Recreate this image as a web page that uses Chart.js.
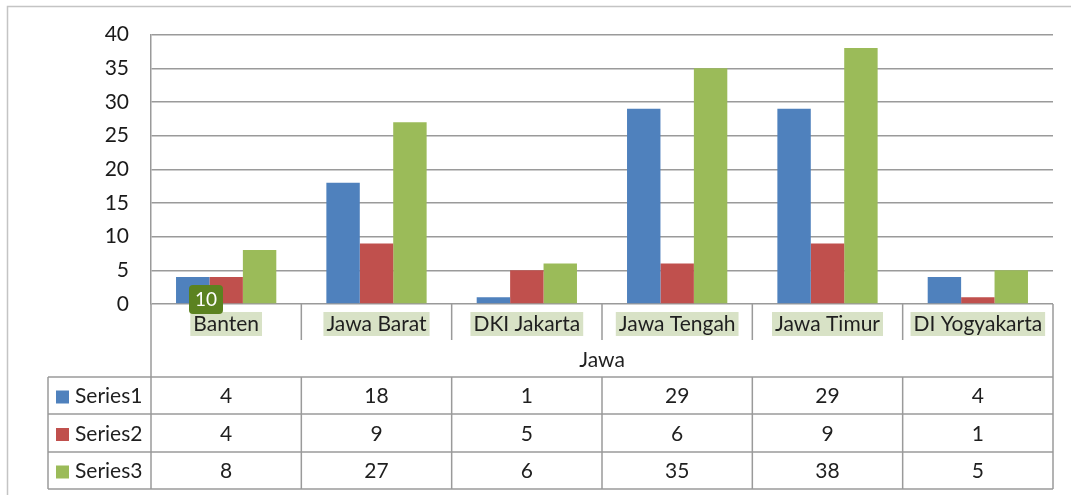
<!DOCTYPE html>
<html>
<head>
<meta charset="utf-8">
<script src="https://cdn.jsdelivr.net/npm/chart.js@4"></script>
<style>
  html, body { margin: 0; padding: 0; background: #fff; }
  #wrap { width: 1071px; height: 495px; }
</style>
</head>
<body>
<div id="wrap"><canvas id="chart" width="1071" height="495"></canvas></div>
<script>
// ===== DATA =====
const categories = ["Banten", "Jawa Barat", "DKI Jakarta", "Jawa Tengah", "Jawa Timur", "DI Yogyakarta"];
const groupLabel = "Jawa";
const seriesNames = ["Series1", "Series2", "Series3"];
const series1 = [4, 18, 1, 29, 29, 4];
const series2 = [4, 9, 5, 6, 9, 1];
const series3 = [8, 27, 6, 35, 38, 5];
const seriesColors = ["#4f81bd", "#c0504d", "#9bbb59"];
const badgeText = "10";

const FONT = "Lato, 'Open Sans', sans-serif";
const lineColor = "#9a9a9a";

// ===== TABLE + EXTRAS =====
const tablePlugin = {
    id: "dataTable",
    afterDraw(chart) {
        const ctx = chart.ctx;
        const area = chart.chartArea;
        const x = chart.scales.x;
        const n = categories.length;
        const left = area.left, right = area.right, base = area.bottom;
        const rowTops = [377, 414, 452, 489];
        const legendLeft = 48;
        const all = [series1, series2, series3];

        // column edges from the x scale
        const edges = [left];
        for (let i = 0; i < n - 1; i++) {
            edges.push((x.getPixelForValue(i) + x.getPixelForValue(i + 1)) / 2);
        }
        edges.push(right);

        ctx.save();

        // outer frame
        ctx.strokeStyle = "#c4c4c4";
        ctx.lineWidth = 1.5;
        ctx.beginPath();
        ctx.moveTo(7.5, 495); ctx.lineTo(7.5, 6.5); ctx.lineTo(1071, 6.5);
        ctx.stroke();

        // category label highlights + text
        ctx.font = "21px " + FONT;
        ctx.textAlign = "center";
        ctx.textBaseline = "middle";
        categories.forEach((c, i) => {
            const cx = x.getPixelForValue(i);
            const w = Math.min(ctx.measureText(c).width + 6, edges[i + 1] - edges[i] - 2);
            ctx.fillStyle = "#d8e2c6";
            ctx.fillRect(cx - w / 2, 312, w, 24);
        });
        categories.forEach((c, i) => {
            ctx.fillStyle = "#1f1f1f";
            ctx.fillText(c, x.getPixelForValue(i), 324);
        });
        ctx.fillText(groupLabel, (left + right) / 2, 360);

        // lines
        ctx.strokeStyle = lineColor;
        ctx.lineWidth = 1.5;
        ctx.beginPath();
        ctx.moveTo(left, base); ctx.lineTo(left, rowTops[3]);
        ctx.moveTo(right, base); ctx.lineTo(right, rowTops[3]);
        for (let i = 1; i < n; i++) {
            ctx.moveTo(edges[i], base); ctx.lineTo(edges[i], 340);
            ctx.moveTo(edges[i], rowTops[0]); ctx.lineTo(edges[i], rowTops[3]);
        }
        ctx.moveTo(legendLeft, rowTops[0]); ctx.lineTo(legendLeft, rowTops[3]);
        rowTops.forEach(y => { ctx.moveTo(legendLeft, y); ctx.lineTo(right, y); });
        ctx.stroke();

        // table rows
        for (let r = 0; r < 3; r++) {
            const cy = (rowTops[r] + rowTops[r + 1]) / 2 + 1;
            ctx.fillStyle = seriesColors[r];
            ctx.fillRect(56, cy - 6, 13, 13);
            ctx.fillStyle = "#1f1f1f";
            ctx.textAlign = "left";
            ctx.fillText(seriesNames[r], 75, cy);
            ctx.textAlign = "center";
            all[r].forEach((v, i) => ctx.fillText(String(v), x.getPixelForValue(i), cy));
        }

        // green badge over Banten
        ctx.fillStyle = "#5b8220";
        ctx.beginPath();
        ctx.roundRect(189, 285, 34, 29, 4);
        ctx.fill();
        ctx.fillStyle = "#ffffff";
        ctx.font = "19px " + FONT;
        ctx.fillText(badgeText, 206, 300);

        ctx.restore();
    }
};

new Chart(document.getElementById("chart").getContext("2d"), {
    type: "bar",
    data: {
        labels: categories,
        datasets: [
            { label: seriesNames[0], data: series1, backgroundColor: seriesColors[0] },
            { label: seriesNames[1], data: series2, backgroundColor: seriesColors[1] },
            { label: seriesNames[2], data: series3, backgroundColor: seriesColors[2] }
        ]
    },
    options: {
        responsive: false,
        animation: false,
        events: [],
        layout: { padding: { left: 0, top: 33, right: 18, bottom: 191 } },
        datasets: { bar: { categoryPercentage: 0.667, barPercentage: 1 } },
        plugins: { legend: { display: false }, tooltip: { enabled: false } },
        scales: {
            x: {
                display: false,
                offset: true
            },
            y: {
                min: 0,
                max: 40,
                afterFit: (s) => { s.width = 151; },
                border: { display: true, color: lineColor, width: 1.5 },
                grid: { color: lineColor, lineWidth: 1.5, drawTicks: false },
                ticks: {
                    stepSize: 5,
                    padding: 22,
                    color: "#1a1a1a",
                    font: { family: FONT, size: 21 }
                }
            }
        }
    },
    plugins: [tablePlugin]
});
</script>
</body>
</html>
